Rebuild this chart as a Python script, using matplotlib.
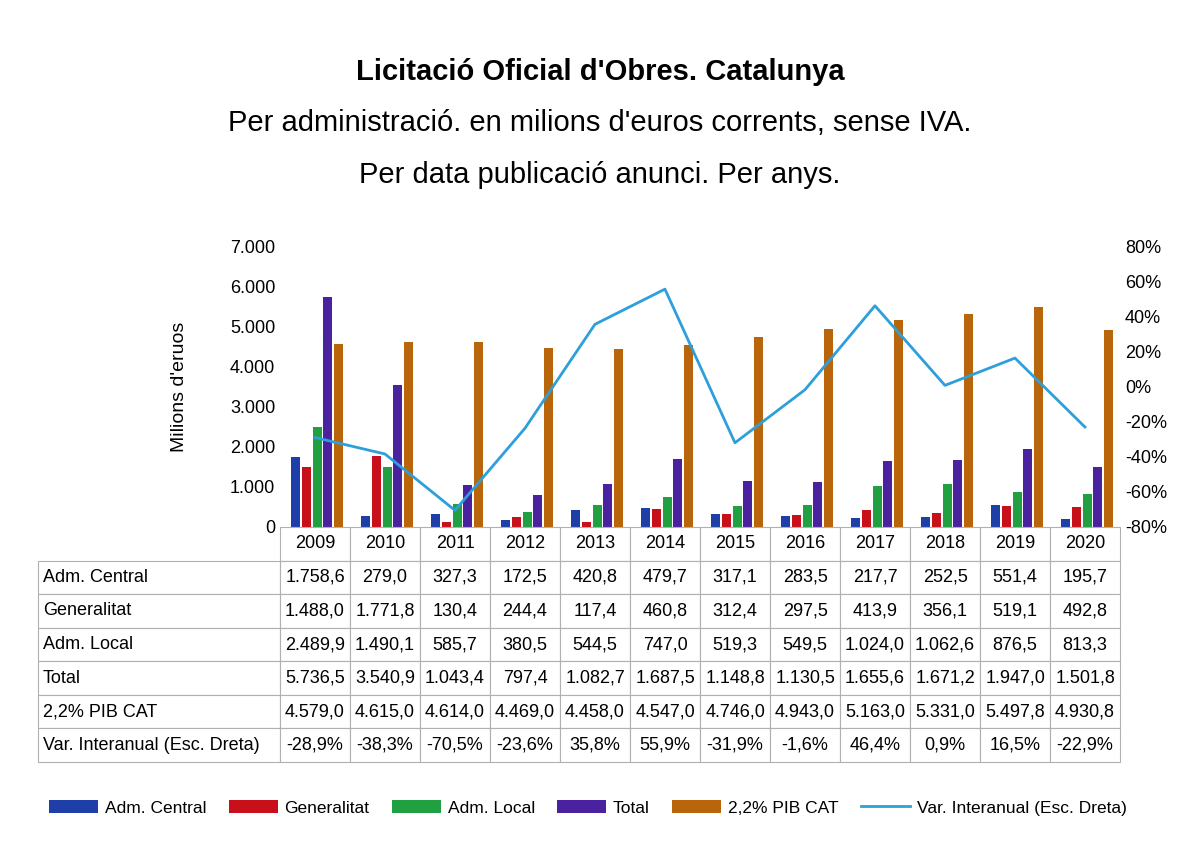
import matplotlib
matplotlib.use("Agg")
import matplotlib.pyplot as plt
import numpy as np
from matplotlib.ticker import FuncFormatter

plt.rcParams["font.family"] = "Liberation Sans"

years = ["2009","2010","2011","2012","2013","2014","2015","2016","2017","2018","2019","2020"]
adm_central = [1758.6,279.0,327.3,172.5,420.8,479.7,317.1,283.5,217.7,252.5,551.4,195.7]
generalitat = [1488.0,1771.8,130.4,244.4,117.4,460.8,312.4,297.5,413.9,356.1,519.1,492.8]
adm_local = [2489.9,1490.1,585.7,380.5,544.5,747.0,519.3,549.5,1024.0,1062.6,876.5,813.3]
total = [5736.5,3540.9,1043.4,797.4,1082.7,1687.5,1148.8,1130.5,1655.6,1671.2,1947.0,1501.8]
pib = [4579.0,4615.0,4614.0,4469.0,4458.0,4547.0,4746.0,4943.0,5163.0,5331.0,5497.8,4930.8]
var = [-28.9,-38.3,-70.5,-23.6,35.8,55.9,-31.9,-1.6,46.4,0.9,16.5,-22.9]

names = ["Adm. Central","Generalitat","Adm. Local","Total","2,2% PIB CAT"]
series = [adm_central, generalitat, adm_local, total, pib]
colors = ["#1F3FA8","#C8101A","#20A040","#4A22A0","#B8650C"]
line_name = "Var. Interanual (Esc. Dreta)"
line_color = "#2D9FDA"

def fmt_num(v):
    s = f"{v:,.1f}"
    return s.replace(",", "X").replace(".", ",").replace("X", ".")

fig = plt.figure(figsize=(12, 8.65), dpi=100)
fig.text(0.5, 0.907, "Licitació Oficial d'Obres. Catalunya", ha="center", fontsize=21, fontweight="bold")
fig.text(0.5, 0.848, "Per administració. en milions d'euros corrents, sense IVA.", ha="center", fontsize=21)
fig.text(0.5, 0.789, "Per data publicació anunci. Per anys.", ha="center", fontsize=21)

ax = fig.add_axes([0.2333, 0.3908, 0.7, 0.3237])
x = np.arange(len(years))
handles = []
for i, (s, c, n) in enumerate(zip(series, colors, names)):
    h = ax.bar(x + (i - 2) * 0.155 + 0.03, s, width=0.13, color=c, label=n, zorder=3)
    handles.append(h)
ax.set_xlim(-0.5, len(years) - 0.5)
ax.set_ylim(0, 7000)
ax.set_yticks(np.arange(0, 7001, 1000))
ax.yaxis.set_major_formatter(FuncFormatter(lambda v, p: "0" if v == 0 else f"{int(v):,}".replace(",", ".")))
ax.set_xticks([])
for sp in ax.spines.values():
    sp.set_visible(False)
ax.tick_params(axis="y", length=0, labelsize=13)
ax.set_ylabel("Milions d'eruos", fontsize=14, labelpad=30)

ax2 = ax.twinx()
ln, = ax2.plot(x, var, color=line_color, lw=2, label=line_name, zorder=4)
ax2.set_ylim(-80, 80)
ax2.set_yticks(np.arange(-80, 81, 20))
ax2.yaxis.set_major_formatter(FuncFormatter(lambda v, p: f"{int(v)}%"))
ax2.tick_params(axis="y", length=0, labelsize=13)
for sp in ax2.spines.values():
    sp.set_visible(False)

tax = fig.add_axes([0.0317, 0.119, 0.9017, 0.2717])
tax.axis("off")
rows = [[""] + years]
for n, s in zip(names, series):
    rows.append([n] + [fmt_num(v) for v in s])
rows.append([line_name] + [f"{v:.1f}%".replace(".", ",") for v in var])
lw = 242 / 1082
cw = (1 - lw) / 12
tbl = tax.table(cellText=rows, colWidths=[lw] + [cw] * 12, bbox=[0, 0, 1, 1], cellLoc="center")
tbl.auto_set_font_size(False)
for (r, c), cell in tbl.get_celld().items():
    cell.set_fontsize(13)
    cell.set_edgecolor("#b0b0b0")
    cell.set_linewidth(0.8)
    if c == 0:
        cell._loc = "left"
        cell.PAD = 0.02
        cell.get_text().set_horizontalalignment("left")
    if r == 0 and c == 0:
        cell.set_visible(False)

fig.legend(handles + [ln], names + [line_name], loc="center", bbox_to_anchor=(0.49, 0.066),
           ncol=6, frameon=False, fontsize=12.5, handlelength=2.8, handleheight=0.8,
           columnspacing=1.3, handletextpad=0.4)

fig.savefig("out.png", dpi=100)
